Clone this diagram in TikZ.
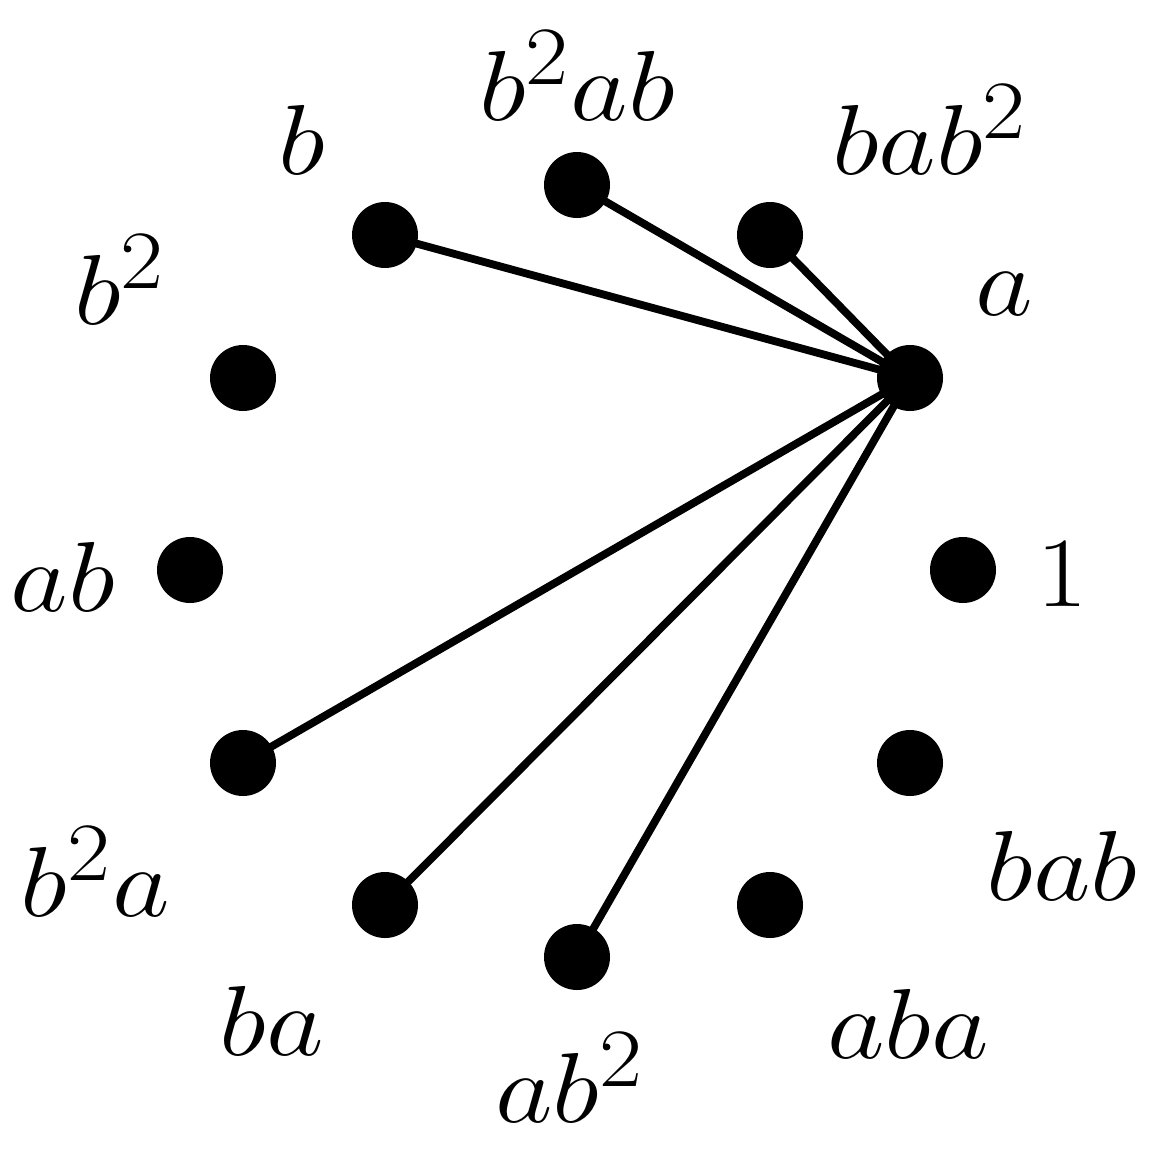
\documentclass[tikz,border=0pt]{standalone}
\begin{document}
\begin{tikzpicture}[x=1pt,y=-1pt,
  vert/.style={circle,fill=black,inner sep=0pt,minimum size=66pt},
  lab/.style={inner sep=0pt,font=\Huge,xscale=4.5,yscale=4.0},
  edge/.style={line width=7.8pt}]
\useasboundingbox (0,0) rectangle (1155,1148);
\node[vert] (n1) at (963,570) {};
\node[vert] (na) at (910,378) {};
\node[vert] (nbabb) at (770,235) {};
\node[vert] (nbbab) at (577,185) {};
\node[vert] (nb) at (385,235) {};
\node[vert] (nbb) at (243,378) {};
\node[vert] (nab) at (190,570) {};
\node[vert] (nbba) at (243,763) {};
\node[vert] (nba) at (385,905) {};
\node[vert] (nabb) at (577,957) {};
\node[vert] (naba) at (770,905) {};
\node[vert] (nbab) at (910,763) {};
\foreach \t in {nb,nbbab,nbabb,nbba,nba,nabb}
  \draw[edge] (na.center) -- (\t.center);
\node[lab] (l1) at (1062,574) {$1$};
\node[lab] (la) at (1004,294) {$a$};
\node[lab] (lbabb) at (930,130) {$bab^2$};
\node[lab] (lbbab) at (577,76) {$b^2ab$};
\node[lab] (lb) at (302,140) {$b$};
\node[lab] (lbb) at (120,280) {$b^2$};
\node[lab] (lab) at (63,577) {$ab$};
\node[lab] (lbba) at (95,872) {$b^2a$};
\node[lab] (lba) at (272,1021) {$ba$};
\node[lab] (labb) at (570,1078) {$ab^2$};
\node[lab] (laba) at (908,1024) {$aba$};
\node[lab] (lbab) at (1062,866) {$bab$};
\end{tikzpicture}
\end{document}
